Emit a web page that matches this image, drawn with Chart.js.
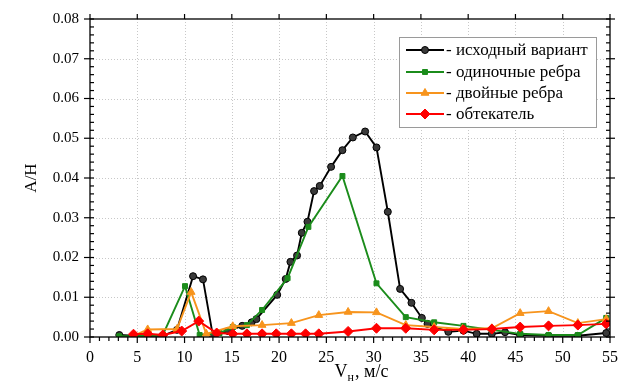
<!DOCTYPE html>
<html><head><meta charset="utf-8">
<script src="https://cdn.jsdelivr.net/npm/chart.js@4/dist/chart.umd.min.js"></script>
<style>html,body{margin:0;padding:0;background:#fff}#wrap{width:618px;height:383px}</style>
</head><body><div id="wrap"><canvas id="c" width="618" height="383"></canvas></div>
<script>
const seriesNames = ["- исходный вариант", "- одиночные ребра", "- двойные ребра", "- обтекатель"];
const xTitle = ["V", "н", ", м/с"];
const yTitle = "A/H";
const xTicks = [0,5,10,15,20,25,30,35,40,45,50,55];
const yTicks = [0,0.01,0.02,0.03,0.04,0.05,0.06,0.07,0.08];

const baseV = [3.1,4.6,6.1,7.7,9.2,10.9,11.95,13.0,14.6,16.1,17.1,17.6,19.8,20.7,21.2,21.9,22.4,23.0,23.7,24.3,25.5,26.7,27.8,29.1,30.3,31.5,32.8,34.0,35.1,35.7,37.9,39.5,40.9,42.5,43.9,45.5,48.5,51.6,54.6];
const baseA = [0.0005,0.0003,0.0003,0.0003,0.0018,0.0153,0.0145,0.0003,0.0015,0.0028,0.0037,0.0045,0.0106,0.0146,0.0189,0.0205,0.0262,0.0290,0.0367,0.0380,0.0428,0.0470,0.0502,0.0517,0.0477,0.0315,0.0121,0.0086,0.0048,0.0033,0.0013,0.0016,0.0008,0.0008,0.0012,0.0005,0.0003,0.0003,0.0010];

const singleV = [3.1,4.6,6.1,7.7,10.05,11.6,13.7,15.1,16.6,18.2,20.9,23.1,26.7,30.3,33.4,36.4,39.5,42.5,45.5,48.5,51.6,54.6];
const singleA = [0.0002,0.0002,0.0003,0.0005,0.0128,0.0005,0.0010,0.0025,0.0030,0.0068,0.0148,0.0277,0.0405,0.0135,0.0050,0.0037,0.0028,0.0018,0.0008,0.0005,0.0005,0.0048];

const doubleV = [4.6,6.1,9.2,10.7,12.3,15.1,18.2,21.3,24.2,27.3,30.3,33.4,36.4,39.4,42.5,45.5,48.5,51.6,54.6];
const doubleA = [0.0003,0.0019,0.0020,0.0113,0.0008,0.0027,0.0030,0.0035,0.0055,0.0063,0.0062,0.0030,0.0025,0.0020,0.0022,0.0060,0.0065,0.0035,0.0045];

const fairV = [4.6,6.1,7.7,9.7,11.5,13.4,15.1,16.6,18.2,19.7,21.3,22.8,24.2,27.3,30.3,33.4,36.4,39.5,42.5,45.5,48.5,51.6,54.6];
const fairA = [0.0007,0.0008,0.0005,0.0015,0.0040,0.0010,0.0008,0.0008,0.0008,0.0008,0.0008,0.0008,0.0008,0.0014,0.0022,0.0022,0.0018,0.0018,0.0020,0.0025,0.0028,0.0030,0.0033];

const colors = ["#000000", "#1b8c1b", "#f7941d", "#ff0000"];
const fills = ["#3a3a3a", "#1b8c1b", "#f7941d", "#ff0000"];
const styles = ["circle", "rect", "triangle", "rectRot"];
const radii = [3.5, 3.5, 4.5, 5];

function pts(xs, ys){ return xs.map((x,i)=>({x:x, y:ys[i]})); }
const allData = [pts(baseV,baseA), pts(singleV,singleA), pts(doubleV,doubleA), pts(fairV,fairA)];

const datasets = allData.map((d,i)=>({
  label: seriesNames[i], data: d, showLine: true,
  borderColor: colors[i], backgroundColor: fills[i],
  pointBorderColor: colors[i], pointBackgroundColor: fills[i],
  pointStyle: styles[i], pointRadius: radii[i], pointBorderWidth: 1,
  borderWidth: 1.9, tension: 0, order: 4 - i
}));

const SERIF = "'Liberation Serif', 'Times New Roman', serif";

const framePlugin = {
  id: 'frame',
  beforeDatasetsDraw(chart){
    const {ctx, chartArea:a, scales:{x,y}} = chart;
    ctx.save();
    ctx.strokeStyle = "#c8c8c8"; ctx.lineWidth = 1; ctx.setLineDash([1,2]);
    xTicks.forEach(v=>{ if(v>0 && v<55){ const px=Math.round(x.getPixelForValue(v))+0.5; ctx.beginPath(); ctx.moveTo(px,a.top); ctx.lineTo(px,a.bottom); ctx.stroke(); }});
    yTicks.forEach(v=>{ if(v>0 && v<0.08){ const py=Math.round(y.getPixelForValue(v))+0.5; ctx.beginPath(); ctx.moveTo(a.left,py); ctx.lineTo(a.right,py); ctx.stroke(); }});
    ctx.restore();
  },
  afterDraw(chart){
    const {ctx, chartArea:a, scales:{x,y}} = chart;
    ctx.save();
    ctx.strokeStyle = "#000"; ctx.lineWidth = 1.3; ctx.setLineDash([]);
    ctx.strokeRect(a.left, a.top, a.right-a.left, a.bottom-a.top);
    ctx.lineWidth = 1.2;
    for(let v=0; v<=55; v+=1){
      const px = x.getPixelForValue(v); const major = v%5===0;
      ctx.beginPath(); ctx.moveTo(px, a.bottom); ctx.lineTo(px, a.bottom + (major?6:4)); ctx.stroke();
      ctx.beginPath(); ctx.moveTo(px, a.top); ctx.lineTo(px, a.top - (major?5:0)); ctx.stroke();
    }
    for(let k=0; k<=40; k++){
      const v = k*0.002; const py = y.getPixelForValue(v); const major = k%5===0;
      ctx.beginPath(); ctx.moveTo(a.left - (major?6:0), py); ctx.lineTo(a.left + 4, py); ctx.stroke();
      ctx.beginPath(); ctx.moveTo(a.right - 4, py); ctx.lineTo(a.right + (major?5:0), py); ctx.stroke();
    }
    ctx.fillStyle = "#000"; ctx.font = "17px " + SERIF;
    ctx.save(); ctx.translate(32, (a.top+a.bottom)/2); ctx.rotate(-Math.PI/2);
    ctx.textAlign = "center"; ctx.textBaseline = "middle"; ctx.fillText(yTitle, 0, 0); ctx.restore();
    ctx.textBaseline = "alphabetic"; ctx.textAlign = "left";
    const f1 = "18px " + SERIF, f2 = "12px " + SERIF;
    ctx.font = f1; const w1 = ctx.measureText(xTitle[0]).width;
    ctx.font = f2; const w2 = ctx.measureText(xTitle[1]).width;
    ctx.font = f1; const w3 = ctx.measureText(xTitle[2]).width;
    let sx = 361 - (w1+w2+w3)/2; const base = 377;
    ctx.font = f1; ctx.fillText(xTitle[0], sx, base); sx += w1;
    ctx.font = f2; ctx.fillText(xTitle[1], sx, base+4); sx += w2 + 1;
    ctx.font = f1; ctx.fillText(xTitle[2], sx, base);
    const lx = 399, ly = 37, lw = 197, lh = 90;
    ctx.fillStyle = "#fff"; ctx.fillRect(lx, ly, lw, lh);
    ctx.strokeStyle = "#9a9a9a"; ctx.lineWidth = 1; ctx.strokeRect(lx+0.5, ly+0.5, lw, lh);
    const rows = [50, 72, 93, 114];
    chart.data.datasets.forEach((ds,i)=>{
      const ry = rows[i];
      ctx.strokeStyle = colors[i]; ctx.lineWidth = 1.9;
      ctx.beginPath(); ctx.moveTo(406, ry); ctx.lineTo(444, ry); ctx.stroke();
      ctx.fillStyle = fills[i]; ctx.strokeStyle = colors[i]; ctx.lineWidth = 1;
      Chart.helpers.drawPoint(ctx, {pointStyle: styles[i], radius: radii[i], borderWidth: 1, rotation: 0}, 425, ry);
      ctx.fillStyle = "#000"; ctx.font = "17px " + SERIF; ctx.textBaseline = "middle";
      ctx.fillText(ds.label, 446, ry + 1);
    });
    ctx.restore();
  }
};

new Chart(document.getElementById('c'), {
  type: 'scatter',
  data: { datasets },
  options: {
    responsive: false, animation: false, devicePixelRatio: 1,
    layout: { padding: { left: 0, right: 8, top: 19, bottom: 0 } },
    plugins: { legend: { display: false }, tooltip: { enabled: false } },
    scales: {
      x: { type: 'linear', min: 0, max: 55,
        afterFit: s => { s.height = 46; s.paddingLeft = 0; s.paddingRight = 0; },
        afterBuildTicks: s => { s.ticks = xTicks.map(v=>({value:v})); },
        grid: { display: false }, border: { display: false },
        ticks: { color: "#000", padding: 3, maxRotation: 0, font: { family: SERIF, size: 16 } } },
      y: { type: 'linear', min: 0, max: 0.08,
        afterFit: s => { s.width = 90; s.paddingTop = 0; s.paddingBottom = 0; },
        afterBuildTicks: s => { s.ticks = yTicks.map(v=>({value:v})); },
        grid: { display: false }, border: { display: false },
        ticks: { color: "#000", padding: 3, font: { family: SERIF, size: 15 }, callback: v => Number(v).toFixed(2) } }
    }
  },
  plugins: [framePlugin]
});
</script>
</body></html>
